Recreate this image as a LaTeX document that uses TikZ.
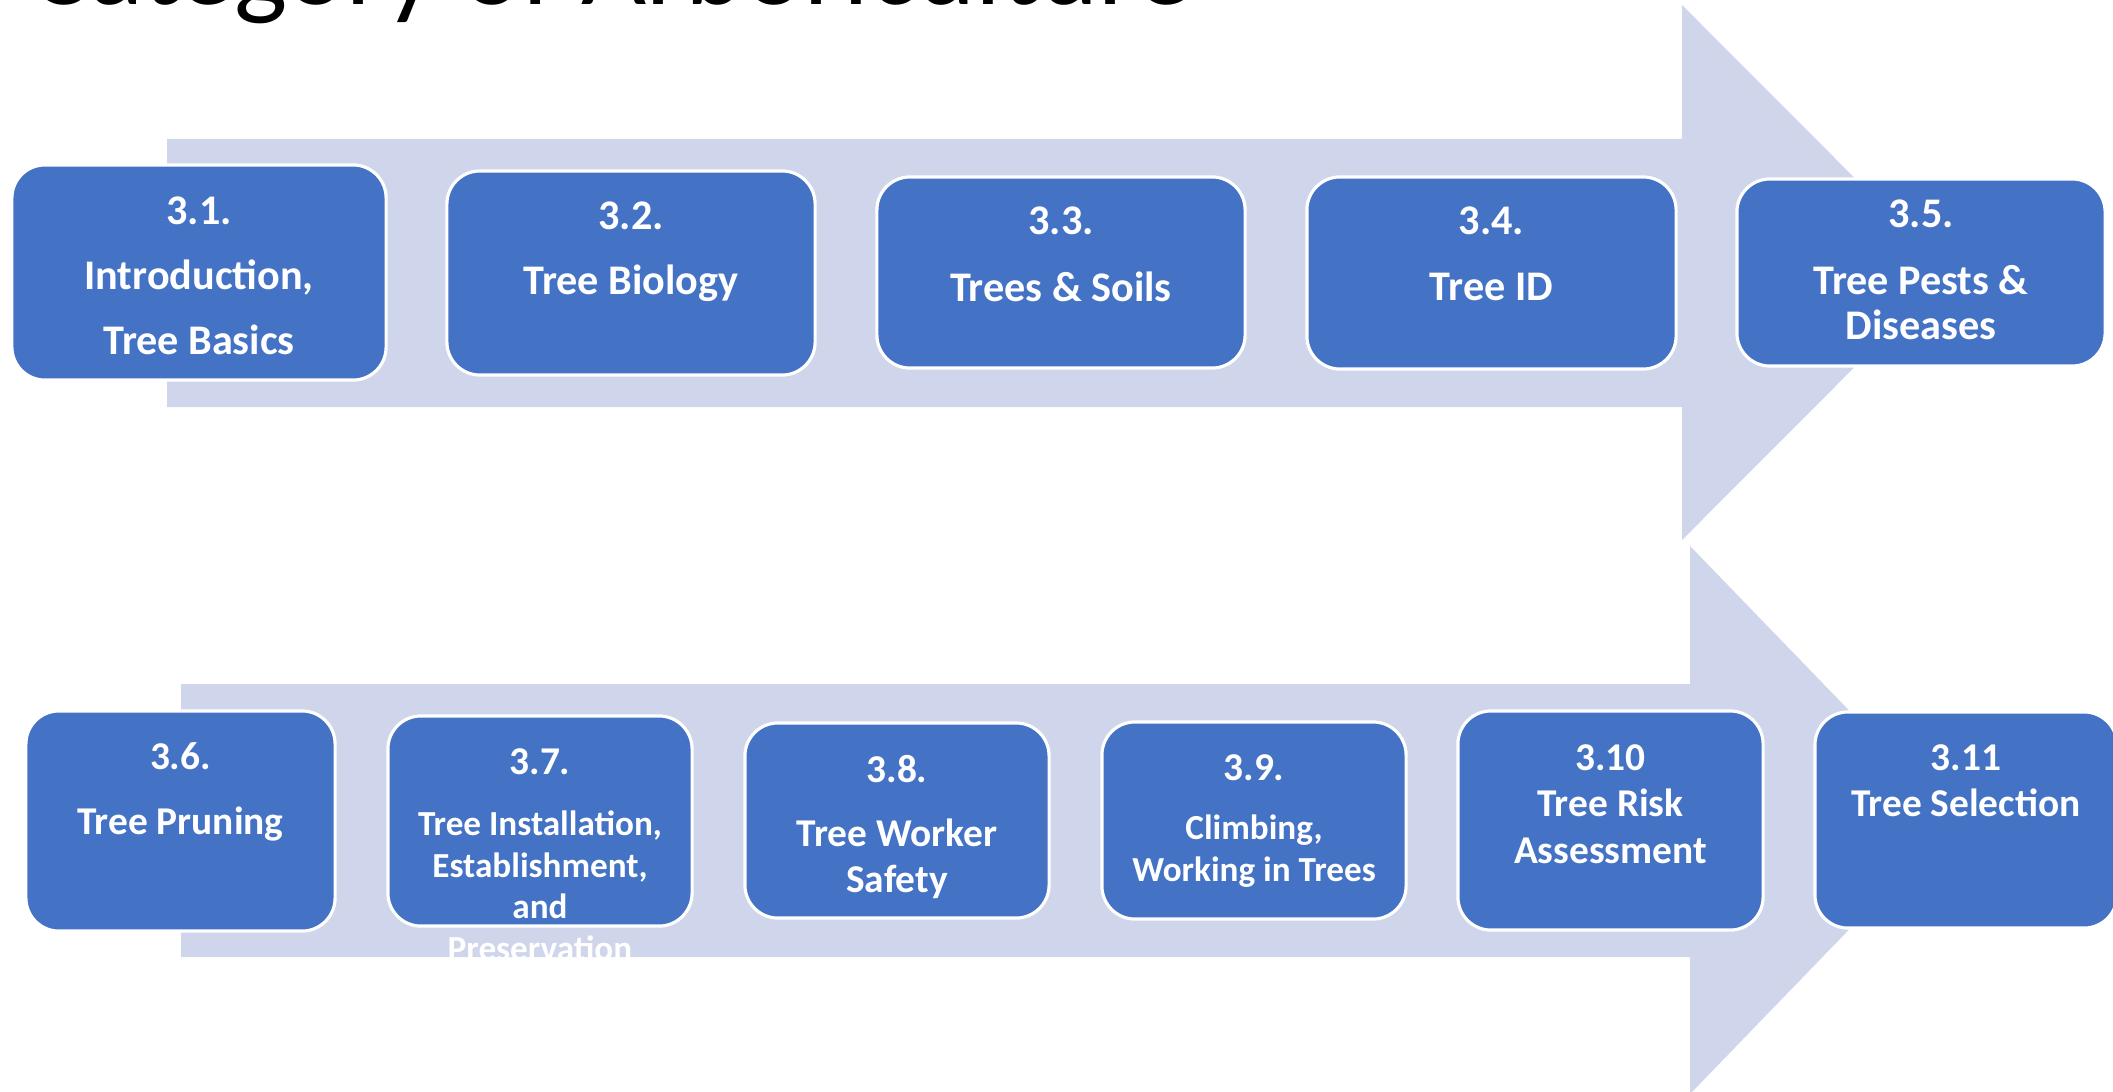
\documentclass[tikz,border=0pt]{standalone}
\usepackage{fontspec}
\setmainfont{Carlito}
\definecolor{boxblue}{HTML}{4472C4}
\definecolor{bandfill}{HTML}{CFD5EA}
\begin{document}
\begin{tikzpicture}[x=0.01cm,y=-0.01cm,
  band/.style={fill=bandfill, draw=none},
  stagebox/.style={fill=boxblue, draw=white, line width=0.9pt, rounded corners=0.33cm, inner sep=0pt},
  lbl/.style={text=white, anchor=base, inner sep=0pt},
  fL/.style={lbl, font=\bfseries\fontsize{12}{14}\selectfont},
  fM/.style={lbl, font=\bfseries\fontsize{11.2}{13}\selectfont},
  fS/.style={lbl, font=\bfseries\fontsize{10}{12}\selectfont}]
\useasboundingbox (0,0) rectangle (2113,1091);

% title, mostly above the top edge
\node[anchor=base east, inner sep=0pt, font=\fontsize{32}{38}\selectfont] (title) at (1193,5) {Category of Arboriculture};

% the two block arrows behind the stages
\path[band] (167,139) -- (1682,139) -- (1682,5) -- (1949,272.5) -- (1682,540) -- (1682,407) -- (167,407) -- cycle;
\path[band] (181,684) -- (1690,684) -- (1690,546) -- (1955,820) -- (1690,1094) -- (1690,957) -- (181,957) -- cycle;

% first row of stages
\node[stagebox, minimum width=3.74cm, minimum height=2.15cm] (s1) at (199,272.5) {};
\node[stagebox, minimum width=3.68cm, minimum height=2.04cm] (s2) at (631,273) {};
\node[stagebox, minimum width=3.68cm, minimum height=1.91cm] (s3) at (1061,272.5) {};
\node[stagebox, minimum width=3.69cm, minimum height=1.92cm] (s4) at (1491.5,273) {};
\node[stagebox, minimum width=3.68cm, minimum height=1.87cm] (s5) at (1921,272.5) {};

\node[fL] (t1a) at (199,224) {3.1.};
\node[fL] (t1b) at (199,289) {Introduction,};
\node[fL] (t1c) at (199,354) {Tree Basics};

\node[fL] (t2a) at (631,229) {3.2.};
\node[fL] (t2b) at (631,294) {Tree Biology};

\node[fL] (t3a) at (1061,235) {3.3.};
\node[fL] (t3b) at (1061,301) {Trees \& Soils};

\node[fL] (t4a) at (1491.5,234) {3.4.};
\node[fL] (t4b) at (1491.5,300) {Tree ID};

\node[fL] (t5a) at (1921,228) {3.5.};
\node[fL] (t5b) at (1921,294) {Tree Pests \&};
\node[fL] (t5c) at (1921,339) {Diseases};

% second row of stages
\node[stagebox, minimum width=3.09cm, minimum height=2.20cm] (s6) at (180.5,821) {};
\node[stagebox, minimum width=3.04cm, minimum height=2.10cm] (s7) at (540,821) {};
\node[stagebox, minimum width=3.04cm, minimum height=1.95cm] (s8) at (897,820.5) {};
\node[stagebox, minimum width=3.04cm, minimum height=1.97cm] (s9) at (1254,820.5) {};
\node[stagebox, minimum width=3.05cm, minimum height=2.19cm] (s10) at (1610.5,820.5) {};
\node[stagebox, minimum width=3.02cm, minimum height=2.16cm] (s11) at (1966,820) {};

\node[fM] (t6a) at (180.5,769) {3.6.};
\node[fM] (t6b) at (180.5,834) {Tree Pruning};

\node[fM] (t7a) at (540,774) {3.7.};
\node[fS] (t7b) at (540,835) {Tree Installation,};
\node[fS] (t7c) at (540,877) {Establishment,};
\node[fS] (t7d) at (540,918) {and};
\node[fS] (t7e) at (540,960) {Preservation};

\node[fM] (t8a) at (897,782) {3.8.};
\node[fM] (t8b) at (897,846) {Tree Worker};
\node[fM] (t8c) at (897,892) {Safety};

\node[fM] (t9a) at (1254,780) {3.9.};
\node[fS] (t9b) at (1254,839) {Climbing,};
\node[fS] (t9c) at (1254,881) {Working in Trees};

\node[fM] (t10a) at (1610.5,770) {3.10};
\node[fM] (t10b) at (1610.5,816) {Tree Risk};
\node[fM] (t10c) at (1610.5,863) {Assessment};

\node[fM] (t11a) at (1966,770) {3.11};
\node[fM] (t11b) at (1966,816) {Tree Selection};
\end{tikzpicture}
\end{document}
